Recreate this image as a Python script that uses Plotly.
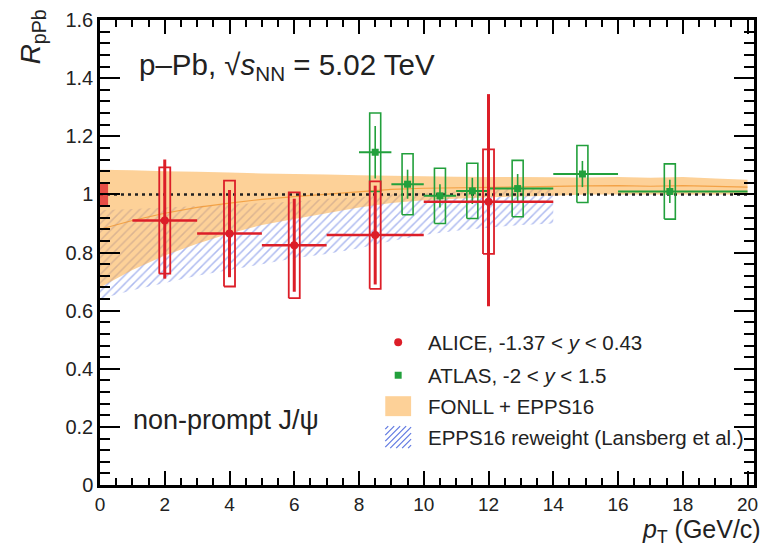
import plotly.graph_objects as go

# ---- ALICE non-prompt J/psi R_pPb (-1.37 < y < 0.43) ----
alice_pt = [2.0, 4.0, 6.0, 8.5, 12.0]
alice_lo = [1.0, 3.0, 5.0, 7.0, 10.0]
alice_hi = [3.0, 5.0, 7.0, 10.0, 14.0]
alice_r = [0.91, 0.865, 0.825, 0.86, 0.975]
alice_stat_up = [0.21, 0.15, 0.16, 0.17, 0.37]
alice_stat_dn = [0.20, 0.15, 0.16, 0.17, 0.36]
alice_syst = [0.183, 0.182, 0.182, 0.185, 0.18]

# global normalisation uncertainty drawn at R = 1
norm_x = [0.0, 0.25]
norm_y = [0.962, 1.038]

# ---- ATLAS non-prompt J/psi R_pPb (-2 < y < 1.5) ----
atlas_pt = [8.5, 9.5, 10.5, 11.5, 12.9, 14.9, 17.6]
atlas_lo = [8.0, 9.0, 10.0, 11.0, 12.0, 14.0, 16.0]
atlas_hi = [9.0, 10.0, 11.0, 12.0, 14.0, 16.0, 20.0]
atlas_r = [1.145, 1.035, 0.995, 1.012, 1.02, 1.07, 1.01]
atlas_stat = [0.09, 0.05, 0.04, 0.045, 0.05, 0.045, 0.04]
atlas_syst = [0.135, 0.105, 0.095, 0.095, 0.097, 0.098, 0.095]

# ---- FONLL + EPPS16 band ----
fonll_pt = list(range(0, 21))
fonll_hi = [1.085, 1.083, 1.08, 1.078, 1.075, 1.072, 1.07, 1.068, 1.066, 1.064, 1.062,
            1.061, 1.06, 1.06, 1.059, 1.058, 1.06, 1.057, 1.06, 1.055, 1.05]
fonll_lo = [0.68, 0.74, 0.79, 0.83, 0.865, 0.895, 0.915, 0.935, 0.955, 0.97, 0.98,
            0.985, 0.99, 0.993, 0.995, 1.0, 1.0, 1.0, 1.0, 1.0, 1.0]
fonll_mid = [0.88, 0.91, 0.935, 0.955, 0.97, 0.983, 0.992, 1.0, 1.01, 1.017, 1.021,
             1.023, 1.025, 1.026, 1.027, 1.029, 1.03, 1.028, 1.03, 1.028, 1.025]

# ---- EPPS16 reweight (Lansberg et al.) band ----
lans_pt = list(range(0, 15))
lans_hi = [0.945, 0.95, 0.955, 0.96, 0.965, 0.97, 0.975, 0.985, 0.99, 1.0, 1.005,
           1.01, 1.015, 1.02, 1.02]
lans_lo = [0.64, 0.67, 0.695, 0.72, 0.74, 0.76, 0.78, 0.795, 0.815, 0.84, 0.86,
           0.875, 0.885, 0.895, 0.9]

ref_x = [0.0, 20.0]
ref_y = [1.0, 1.0]

legend_labels = [
    "ALICE, -1.37 < <i>y</i> < 0.43",
    "ATLAS, -2 < <i>y</i> < 1.5",
    "FONLL + EPPS16",
    "EPPS16 reweight (Lansberg et al.)",
]

RED = "#dc1e28"
GREEN = "#22a03c"
ORANGE_FILL = "rgba(251,176,78,0.58)"
HATCH = "rgb(95,120,225)"
FONT = "Liberation Sans, Arial, sans-serif"
TXT = "#222"
BOX_HW = 0.17  # half width of systematic boxes (GeV/c)

# plot-area geometry in pixels, used to place the hand-made legend
PL, PT, PW, PH = 100, 19, 658, 466


def px(x):
    return (x - PL) / PW


def py(y):
    return (PT + PH - y) / PH


def box_outline(xc, yc, ey):
    xs, ys = [], []
    for x, y, e in zip(xc, yc, ey):
        xs += [x - BOX_HW, x + BOX_HW, x + BOX_HW, x - BOX_HW, x - BOX_HW, None]
        ys += [y - e, y - e, y + e, y + e, y - e, None]
    return xs, ys


def band(x, lo, hi):
    return list(x) + list(x)[::-1], list(hi) + list(lo)[::-1]


fig = go.Figure()

# Lansberg et al. hatched band
bx, by = band(lans_pt, lans_lo, lans_hi)
fig.add_trace(go.Scatter(
    x=bx, y=by, mode="none", fill="toself", fillcolor="rgba(0,0,0,0)",
    fillpattern=dict(shape="/", fgcolor=HATCH, bgcolor="rgba(0,0,0,0)",
                     size=6, solidity=0.25),
    showlegend=False, hoverinfo="skip"))

# FONLL + EPPS16 band (translucent, on top of hatch)
fx, fy = band(fonll_pt, fonll_lo, fonll_hi)
fig.add_trace(go.Scatter(
    x=fx, y=fy, mode="none", fill="toself", fillcolor=ORANGE_FILL,
    showlegend=False, hoverinfo="skip"))
fig.add_trace(go.Scatter(
    x=fonll_pt, y=fonll_mid, mode="lines", line=dict(color="rgba(240,150,50,0.8)", width=1.2),
    showlegend=False, hoverinfo="skip"))

# unity reference line
fig.add_trace(go.Scatter(
    x=ref_x, y=ref_y, mode="lines", line=dict(color="#202020", width=2.5, dash="3px,4px"),
    showlegend=False, hoverinfo="skip"))

# ALICE normalisation box
fig.add_trace(go.Scatter(
    x=[norm_x[0], norm_x[1], norm_x[1], norm_x[0], norm_x[0]],
    y=[norm_y[0], norm_y[0], norm_y[1], norm_y[1], norm_y[0]],
    mode="none", fill="toself", fillcolor="rgba(225,45,50,0.8)",
    showlegend=False, hoverinfo="skip"))

# ATLAS systematic boxes + points
gx, gy = box_outline(atlas_pt, atlas_r, atlas_syst)
fig.add_trace(go.Scatter(x=gx, y=gy, mode="lines", line=dict(color=GREEN, width=1.6),
                         showlegend=False, hoverinfo="skip"))
fig.add_trace(go.Scatter(
    x=atlas_pt, y=atlas_r, mode="markers",
    marker=dict(symbol="square", size=7, color=GREEN),
    error_y=dict(type="data", array=atlas_stat, color=GREEN, thickness=1.6, width=0),
    error_x=dict(type="data", array=[h - p for h, p in zip(atlas_hi, atlas_pt)],
                 arrayminus=[p - l for p, l in zip(atlas_pt, atlas_lo)],
                 color=GREEN, thickness=2, width=0),
    showlegend=False, name="ATLAS"))

# ALICE systematic boxes + points
rx, ry = box_outline(alice_pt, alice_r, alice_syst)
fig.add_trace(go.Scatter(x=rx, y=ry, mode="lines", line=dict(color=RED, width=1.8),
                         showlegend=False, hoverinfo="skip"))
fig.add_trace(go.Scatter(
    x=alice_pt, y=alice_r, mode="markers",
    marker=dict(symbol="circle", size=8, color=RED),
    error_y=dict(type="data", array=alice_stat_up, arrayminus=alice_stat_dn,
                 color=RED, thickness=3, width=0),
    error_x=dict(type="data", array=[h - p for h, p in zip(alice_hi, alice_pt)],
                 arrayminus=[p - l for p, l in zip(alice_pt, alice_lo)],
                 color=RED, thickness=2.5, width=0),
    showlegend=False, name="ALICE"))

axis_common = dict(
    showgrid=False, zeroline=False, showline=True, linecolor="black", linewidth=2.5,
    mirror="allticks", ticks="inside", tickcolor="black", tickwidth=2,
)

fig.update_xaxes(range=[0, 20.2], tickmode="linear", tick0=0, dtick=2, ticklen=14,
                 tickfont=dict(family=FONT, size=19, color=TXT),
                 minor=dict(dtick=0.5, ticklen=7, tickwidth=1.5, ticks="inside", tickcolor="black"),
                 **axis_common)
fig.update_yaxes(range=[0, 1.6], tickmode="linear", tick0=0, dtick=0.2, ticklen=20,
                 tickfont=dict(family=FONT, size=20, color=TXT),
                 minor=dict(dtick=0.04, ticklen=10, tickwidth=1.5, ticks="inside", tickcolor="black"),
                 **axis_common)

# ---- legend (icons + labels) ----
rows = [342, 375, 406, 437]
icon_x = 400
text_x = 428
shapes = []
# ALICE marker
shapes.append(dict(type="circle", xref="paper", yref="paper",
                   x0=px(icon_x - 4), x1=px(icon_x + 4), y0=py(rows[0] + 4), y1=py(rows[0] - 4),
                   fillcolor=RED, line=dict(width=0)))
# ATLAS marker
shapes.append(dict(type="rect", xref="paper", yref="paper",
                   x0=px(icon_x - 3.5), x1=px(icon_x + 3.5), y0=py(rows[1] + 3.5), y1=py(rows[1] - 3.5),
                   fillcolor=GREEN, line=dict(width=0)))
# FONLL swatch
shapes.append(dict(type="rect", xref="paper", yref="paper",
                   x0=px(icon_x - 13), x1=px(icon_x + 13), y0=py(rows[2] + 10), y1=py(rows[2] - 10),
                   fillcolor=ORANGE_FILL, line=dict(width=0)))
# hatched swatch
hx0, hy0, hw, hh, step = icon_x - 13, rows[3] - 11, 26, 22, 6
k = step / 2
while k < hw + hh:
    xa = max(0.0, k - hh)
    xb = min(float(hw), k)
    shapes.append(dict(type="line", xref="paper", yref="paper",
                       x0=px(hx0 + xa), y0=py(hy0 + (k - xa)),
                       x1=px(hx0 + xb), y1=py(hy0 + (k - xb)),
                       line=dict(color=HATCH, width=1.2)))
    k += step

annotations = []
for lab, ry_ in zip(legend_labels, rows):
    annotations.append(dict(text=lab, xref="paper", yref="paper", x=px(text_x), y=py(ry_),
                            xanchor="left", yanchor="middle", showarrow=False,
                            font=dict(family=FONT, size=20.5, color=TXT)))

annotations += [
    dict(text="p–Pb, √<i>s</i><sub>NN</sub> = 5.02 TeV", xref="paper", yref="paper",
         x=px(137), y=py(66), xanchor="left", yanchor="middle", showarrow=False,
         font=dict(family=FONT, size=29.5, color=TXT)),
    dict(text="non-prompt J/ψ", xref="paper", yref="paper",
         x=px(131), y=py(420), xanchor="left", yanchor="middle", showarrow=False,
         font=dict(family=FONT, size=27, color=TXT)),
    dict(text="<i>R</i><sub>pPb</sub>", xref="paper", yref="paper",
         x=px(33), y=py(36), xanchor="center", yanchor="middle", textangle=-90,
         showarrow=False, font=dict(family=FONT, size=28, color=TXT)),
    dict(text="<i>p</i><sub>T</sub> (GeV/c)", xref="paper", yref="paper",
         x=px(766), y=py(548), xanchor="right", yanchor="bottom", showarrow=False,
         borderpad=0, font=dict(family=FONT, size=25, color=TXT)),
]

fig.update_layout(
    width=767, height=549,
    margin=dict(l=PL, r=767 - PL - PW, t=PT, b=549 - PT - PH),
    plot_bgcolor="white", paper_bgcolor="white",
    font=dict(family=FONT, color=TXT),
    showlegend=False,
    shapes=shapes,
    annotations=annotations,
)

fig.write_html("out.html")
